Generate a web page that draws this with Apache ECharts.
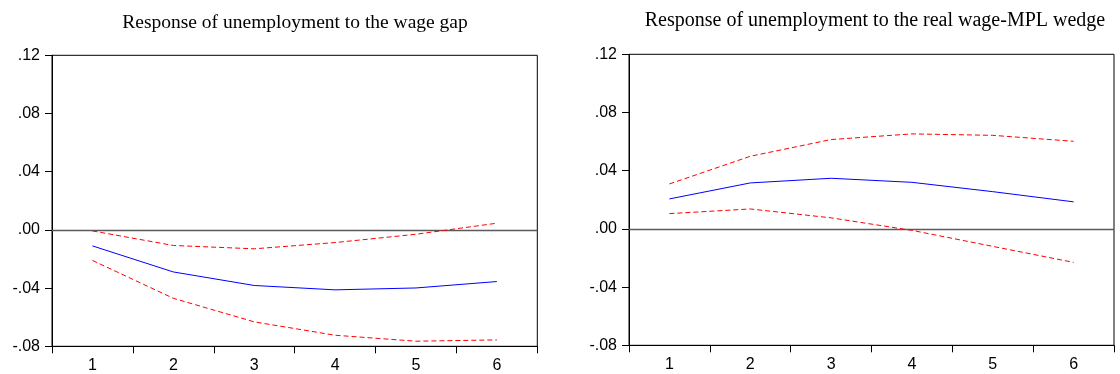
<!DOCTYPE html>
<html>
<head>
<meta charset="utf-8">
<script src="https://cdn.jsdelivr.net/npm/echarts@6/dist/echarts.min.js"></script>
<style>
html,body{margin:0;padding:0;background:#fff;}
#chart{width:1120px;height:374px;}
</style>
</head>
<body>
<div id="chart"></div>
<script>
const periods = ['1','2','3','4','5','6'];
const yTicks = [-0.08, -0.04, 0.00, 0.04, 0.08, 0.12];
const yTickLabels = ['-.08', '-.04', '.00', '.04', '.08', '.12'];

const titleLeft = 'Response of unemployment to the wage gap';
const titleRight = 'Response of unemployment to the real wage-MPL wedge';

// Left panel: response to the wage gap
const gapResponse = [-0.011, -0.0289, -0.0382, -0.0412, -0.0399, -0.0355];
const gapUpper    = [-0.0007, -0.0107, -0.013, -0.0087, -0.003, 0.0046];
const gapLower    = [-0.021, -0.047, -0.0632, -0.0724, -0.0765, -0.0756];

// Right panel: response to the real wage-MPL wedge
const wedgeResponse = [0.0206, 0.0316, 0.0348, 0.032, 0.0256, 0.0186];
const wedgeUpper    = [0.0309, 0.0499, 0.0614, 0.0653, 0.0643, 0.0602];
const wedgeLower    = [0.0105, 0.0137, 0.0076, -0.001, -0.012, -0.023];

function fmtY(v) {
  let best = 0, bd = Infinity;
  for (let i = 0; i < yTicks.length; i++) {
    const d = Math.abs(yTicks[i] - v);
    if (d < bd) { bd = d; best = i; }
  }
  return yTickLabels[best];
}

const labelFont = { fontFamily: 'Liberation Sans', fontSize: 16, color: '#000' };

function xAxis(gi) {
  return {
    type: 'category', gridIndex: gi, data: periods, boundaryGap: true,
    axisLine: { show: true, onZero: false, lineStyle: { color: '#000', width: 1 } },
    axisTick: { show: true, inside: false, length: 7, alignWithLabel: false, lineStyle: { color: '#000' } },
    axisLabel: Object.assign({ margin: 11, interval: 0 }, labelFont),
    splitLine: { show: false }
  };
}
function yAxis(gi) {
  return {
    type: 'value', gridIndex: gi, min: -0.08, max: 0.12, interval: 0.04,
    axisLine: { show: true, onZero: false, lineStyle: { color: '#000', width: 1 } },
    axisTick: { show: true, inside: false, length: 7, lineStyle: { color: '#000' } },
    axisLabel: Object.assign({ margin: 12, formatter: fmtY }, labelFont),
    splitLine: { show: false }
  };
}
function solid(gi, data, withZero) {
  const s = {
    type: 'line', xAxisIndex: gi, yAxisIndex: gi, data: data,
    symbol: 'none', silent: true, z: 3,
    lineStyle: { color: '#0000ff', width: 1 }
  };
  if (withZero) {
    s.markLine = {
      silent: true, symbol: ['none', 'none'], label: { show: false },
      lineStyle: { color: '#5a5a5a', width: 1.3, type: 'solid' },
      data: [{ yAxis: 0 }], z: 2
    };
  }
  return s;
}
function dashed(gi, data) {
  return {
    type: 'line', xAxisIndex: gi, yAxisIndex: gi, data: data,
    symbol: 'none', silent: true, z: 3,
    lineStyle: { color: '#ff0000', width: 1, type: [5, 3] }
  };
}

const chart = echarts.init(document.getElementById('chart'), null, { renderer: 'canvas' });
chart.setOption({
  backgroundColor: '#fff',
  animation: false,
  title: [
    { text: titleLeft, left: 290, top: 8, textAlign: 'center',
      textStyle: { fontFamily: 'Liberation Serif', fontWeight: 'normal', fontSize: 19.5, color: '#000' } },
    { text: titleRight, left: 870, top: 6, textAlign: 'center',
      textStyle: { fontFamily: 'Liberation Serif', fontWeight: 'normal', fontSize: 20, color: '#000' } }
  ],
  grid: [
    { left: 52, top: 55.3, width: 485.3, height: 291, show: true, borderColor: '#000', borderWidth: 1, backgroundColor: 'transparent' },
    { left: 629, top: 54.3, width: 485, height: 291, show: true, borderColor: '#000', borderWidth: 1, backgroundColor: 'transparent' }
  ],
  xAxis: [xAxis(0), xAxis(1)],
  yAxis: [yAxis(0), yAxis(1)],
  series: [
    solid(0, gapResponse, true),
    dashed(0, gapUpper),
    dashed(0, gapLower),
    solid(1, wedgeResponse, true),
    dashed(1, wedgeUpper),
    dashed(1, wedgeLower)
  ]
});
</script>
</body>
</html>
